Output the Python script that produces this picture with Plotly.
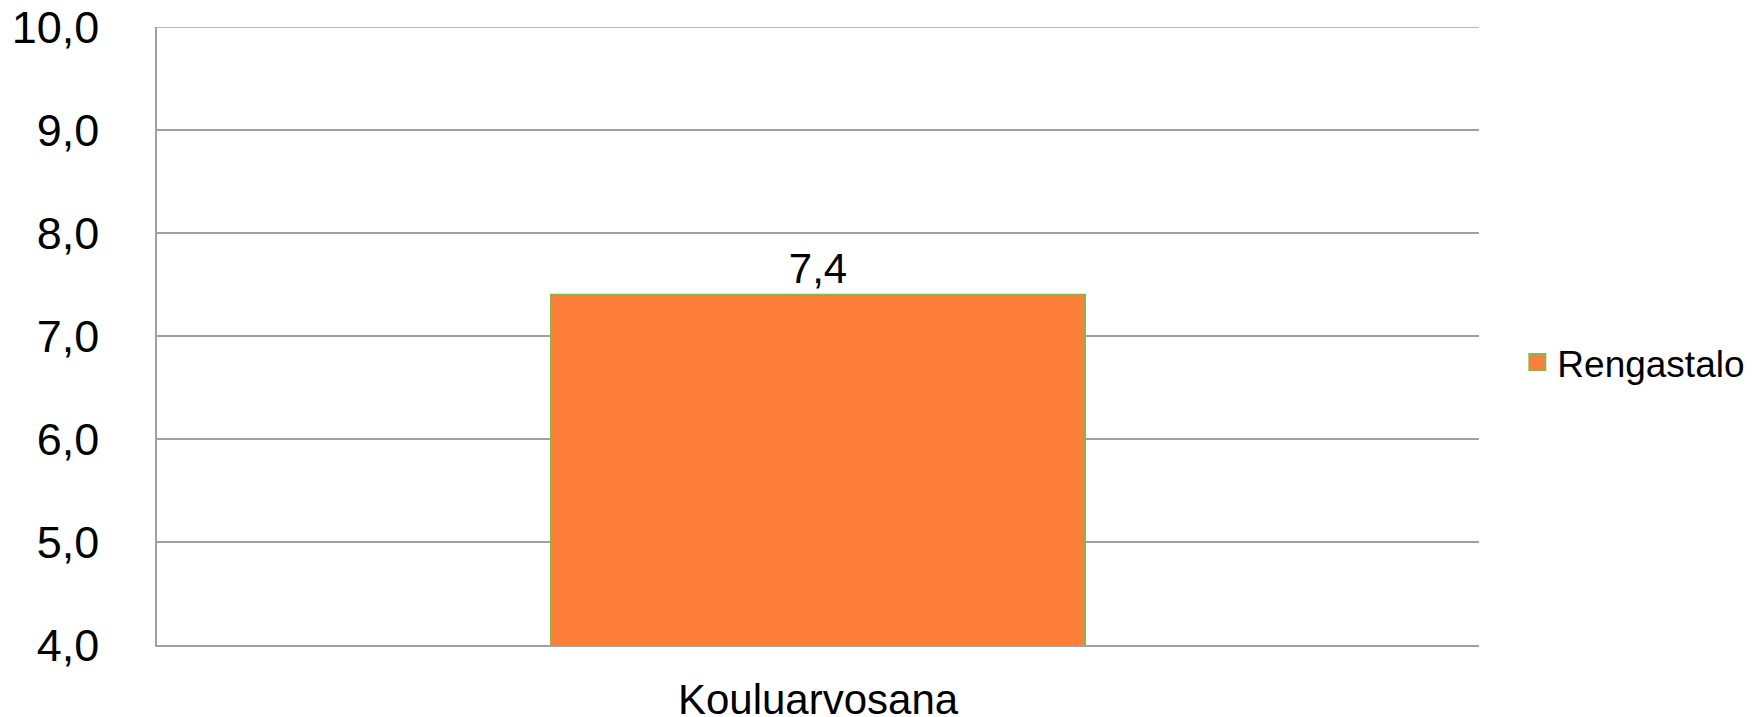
import plotly.graph_objects as go

# data
categories = ['Kouluarvosana']
values = [7.4]
series_name = 'Rengastalo'
y_ticks = [4, 5, 6, 7, 8, 9, 10]

fig = go.Figure()
fig.add_trace(go.Bar(x=categories, y=values, name=series_name,
                     marker=dict(color='#FD7F3A', line=dict(color='#8DB34A', width=2)),
                     texttemplate='%{y:.1f}', textposition='outside',
                     textfont=dict(size=42, color='black'),
                     cliponaxis=False, showlegend=False))
# legend swatch (bigger square than the default bar swatch)
fig.add_trace(go.Scatter(x=[None], y=[None], mode='markers', name=series_name,
                         marker=dict(symbol='square', size=24, color='#FD7F3A',
                                     line=dict(color='#8DB34A', width=2))))

fig.update_layout(
    width=1752, height=717,
    margin=dict(l=157, r=273, t=27, b=72, autoexpand=False),
    plot_bgcolor='white', paper_bgcolor='white',
    separators=',.',
    font=dict(family='Liberation Sans, Arial', color='black'),
    bargap=0.596,
    showlegend=True,
    legend=dict(x=1.029, y=0.457, xanchor='left', yanchor='middle',
                font=dict(size=37), bgcolor='rgba(0,0,0,0)', itemsizing='trace'),
)
# top gridline (plotly drops the grid line on the range edge)
fig.add_shape(type='line', xref='paper', yref='y', x0=0, x1=1, y0=10, y1=10,
              line=dict(color='#A0A0A0', width=1.5), layer='below')
fig.update_yaxes(range=[4, 10], tickvals=y_ticks, tickformat='.1f',
                 showgrid=True, gridcolor='#A0A0A0', gridwidth=1.5,
                 showline=True, linecolor='#A0A0A0', linewidth=1.5,
                 zeroline=False, tickfont=dict(size=45),
                 ticklabelstandoff=47, automargin=False)
fig.update_xaxes(showline=True, linecolor='#A0A0A0', linewidth=1.5,
                 tickfont=dict(size=42), ticklabelstandoff=17, automargin=False)

fig.write_html("out.html", config={'displayModeBar': False},
               post_script="document.body.style.margin='0';")
